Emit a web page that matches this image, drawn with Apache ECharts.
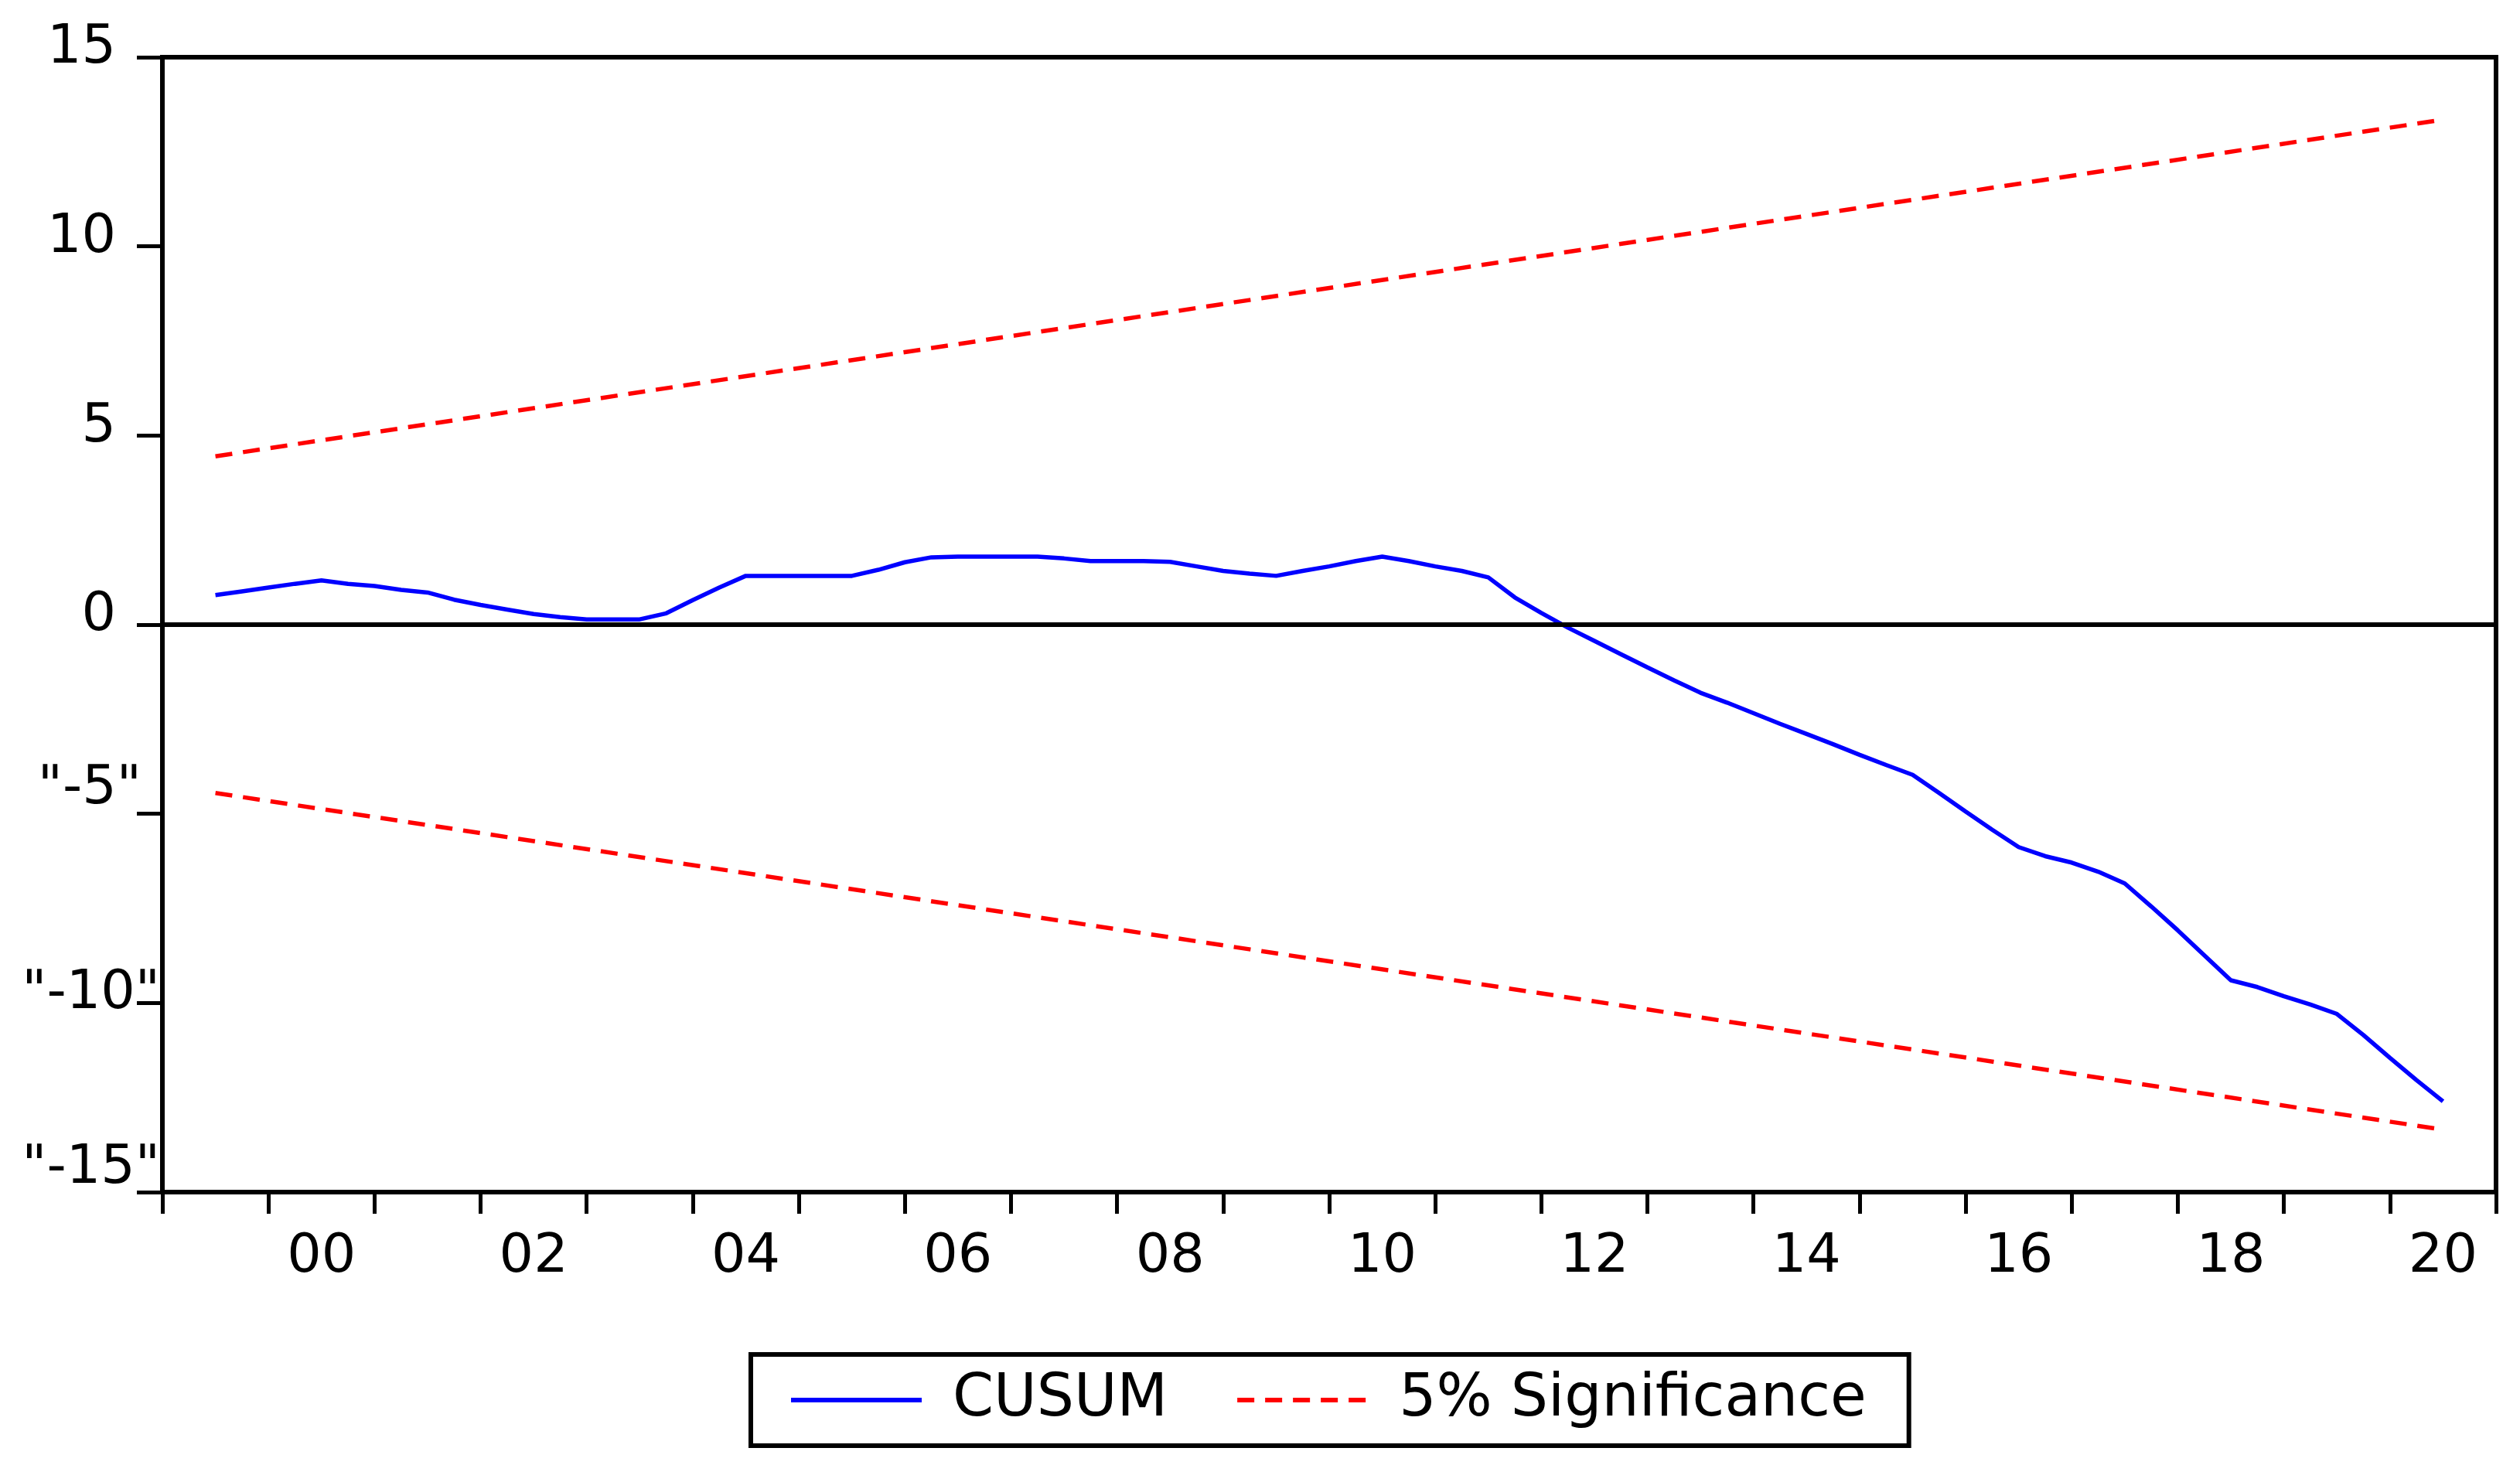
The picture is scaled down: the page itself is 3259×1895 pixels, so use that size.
<!DOCTYPE html>
<html>
<head>
<meta charset="utf-8">
<script src="https://cdn.jsdelivr.net/npm/echarts@6/dist/echarts.min.js"></script>
<style>
html,body{margin:0;padding:0;background:#fff;}
#chart{width:3259px;height:1895px;}
</style>
</head>
<body>
<div id="chart"></div>
<script>
// ---- data ----
const yearCategories = ['99','00','01','02','03','04','05','06','07','08','09','10','11','12','13','14','15','16','17','18','19','20'];
const startYear = 1999, startQuarter = 3; // quarterly observations, 1999Q3 .. 2020Q3
const cusum = [
  0.78, 0.88,
  0.98, 1.08, 1.17, 1.08,
  1.02, 0.92, 0.85, 0.66,
  0.52, 0.40, 0.28, 0.20,
  0.14, 0.14, 0.14, 0.30,
  0.65, 0.98, 1.29, 1.29,
  1.29, 1.29, 1.29, 1.45,
  1.65, 1.78, 1.80, 1.80,
  1.80, 1.80, 1.75, 1.68,
  1.68, 1.68, 1.66, 1.54,
  1.42, 1.35, 1.29, 1.42,
  1.54, 1.68, 1.80, 1.68,
  1.54, 1.42, 1.25, 0.72,
  0.31, -0.08, -0.43, -0.78,
  -1.13, -1.47, -1.80, -2.06,
  -2.34, -2.62, -2.89, -3.16,
  -3.44, -3.71, -3.97, -4.45,
  -4.94, -5.42, -5.88, -6.12,
  -6.29, -6.53, -6.84, -7.45,
  -8.08, -8.74, -9.40, -9.58,
  -9.82, -10.04, -10.29, -10.85,
  -11.45, -12.04, -12.60
];
const sigDates = [1999.5, 2020.5];
const sigUpper = [4.45, 13.35];
const sigLower = [-4.45, -13.35];
const yTickLabels = {'15':'15','10':'10','5':'5','0':'0','-5':'"-5"','-10':'"-10"','-15':'"-15"'};

// ---- build ----
const dates = cusum.map((_, i) => {
  const q = startQuarter - 1 + i;
  return startYear + Math.floor(q / 4) + (q % 4) / 4;
});
const cusumData = cusum.map((v, i) => [dates[i], v]);
const upperData = sigDates.map((d, i) => [d, sigUpper[i]]);
const lowerData = sigDates.map((d, i) => [d, sigLower[i]]);

const FONT = 'DejaVu Sans';
const base = {fontFamily: FONT, fontSize: 70, color: '#000'};

const chart = echarts.init(document.getElementById('chart'));
chart.setOption({
  animation: false,
  backgroundColor: '#fff',
  grid: {left: 210, right: 31, top: 74, bottom: 353, show: true, borderColor: '#000', borderWidth: 6, containLabel: false},
  xAxis: [
    {
      type: 'category', data: yearCategories, boundaryGap: true, position: 'bottom',
      axisLine: {show: true, onZero: false, lineStyle: {color: '#000', width: 6}},
      axisTick: {show: true, interval: 0, alignWithLabel: false, length: 28, lineStyle: {color: '#000', width: 5}},
      axisLabel: {
        interval: function (idx) { return idx % 2 === 1; },
        margin: 50, fontFamily: FONT, fontSize: 70, color: '#000'
      },
      splitLine: {show: false}
    },
    {type: 'value', min: 1999, max: 2021, show: false}
  ],
  yAxis: {
    type: 'value', min: -15, max: 15, interval: 5,
    axisLine: {show: true, lineStyle: {color: '#000', width: 6}},
    axisTick: {show: true, length: 33, lineStyle: {color: '#000', width: 5}},
    splitLine: {show: false},
    axisLabel: {
      margin: 3,
      formatter: function (v) {
        const t = yTickLabels[String(v)];
        const k = v >= 0 ? 'p' : (v === -5 ? 'n5' : (v === -10 ? 'n10' : 'n15'));
        return '{' + k + '|' + t + '}';
      },
      rich: {
        p: Object.assign({padding: [0, 57, 22, 0]}, base),
        n5: Object.assign({padding: [0, 24, 64, 0]}, base),
        n10: Object.assign({padding: [0, 0, 24, 0]}, base),
        n15: Object.assign({padding: [0, 0, 60, 0]}, base)
      }
    }
  },
  legend: {
    left: 971, top: 1752, orient: 'horizontal',
    itemWidth: 169, itemHeight: 20, itemGap: 87,
    borderColor: '#000', borderWidth: 6, backgroundColor: '#fff',
    padding: [19, 55, 19, 49],
    itemStyle: {opacity: 0, borderWidth: 0},
    lineStyle: {width: 6},
    textStyle: {fontFamily: FONT, fontSize: 76, color: '#000', lineHeight: 80, padding: [0, 0, 0, 35]},
    data: ['CUSUM', '5% Significance']
  },
  series: [
    {
      name: 'CUSUM', type: 'line', xAxisIndex: 1, data: cusumData, symbol: 'none',
      lineStyle: {color: '#0000ff', width: 5.5}, itemStyle: {color: '#0000ff'},
      markLine: {
        silent: true, symbol: ['none', 'none'], label: {show: false},
        lineStyle: {color: '#000', width: 6, type: 'solid'},
        data: [{yAxis: 0}]
      }
    },
    {
      name: '5% Significance', type: 'line', xAxisIndex: 1, data: upperData, symbol: 'none',
      lineStyle: {color: '#ff0000', width: 5.5, type: [22, 14]}, itemStyle: {color: '#ff0000'}
    },
    {
      name: '5% Significance', type: 'line', xAxisIndex: 1, data: lowerData, symbol: 'none',
      lineStyle: {color: '#ff0000', width: 5.5, type: [22, 14]}, itemStyle: {color: '#ff0000'}
    }
  ]
});
</script>
</body>
</html>
